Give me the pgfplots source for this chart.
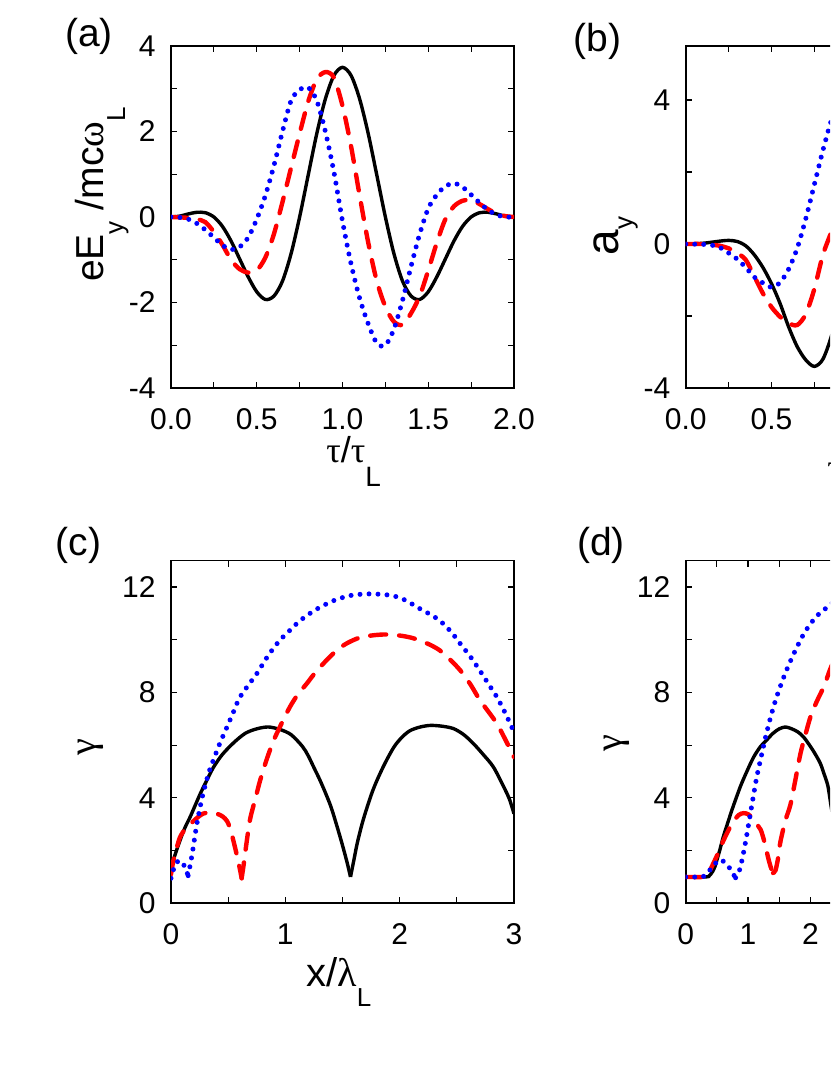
\documentclass[border=0pt]{standalone}
\usepackage{fontspec}
\setmainfont{Liberation Sans}
\newfontfamily\gr{Liberation Serif}
\usepackage{pgfplots}
\pgfplotsset{compat=1.18}
\newcommand{\fs}[1]{\fontsize{#1}{#1}\selectfont}
\pgfplotsset{
  panel/.style={scale only axis, width=171.5pt, height=171pt, anchor=south west,
    tick align=inside, major tick length=3pt, minor tick length=3pt,
    axis line style={line width=0.8pt}, tick style={black, line width=0.6pt},
    tick label style={font=\fs{15}},
    xticklabel style={inner sep=0pt, yshift=-10pt},
    yticklabel style={inner sep=0pt, xshift=-7.5pt}, clip=true},
  blk/.style={black, line width=1.7pt},
  rdd/.style={red, line width=2.2pt, dash pattern=on 8pt off 6.5pt, line cap=round},
  bld/.style={blue, line width=2.5pt, dash pattern=on 0pt off 4.5pt, line cap=round},
}
\begin{document}
\begin{tikzpicture}
\useasboundingbox (0,0) rectangle (415pt,537.5pt);
\clip (0,0) rectangle (415pt,537.5pt);
% ---------------- (a)
\begin{axis}[panel, at={(85.5pt,343.5pt)}, xmin=0, xmax=2, ymin=-4, ymax=4,
  xtick={0,0.5,1,1.5,2}, xticklabels={0.0,0.5,1.0,1.5,2.0}, minor xtick={0.25,0.75,1.25,1.75},
  ytick={-4,-2,0,2,4}, yticklabels={-4,-2,0,2,4}, minor ytick={-3,-1,1,3}]
\addplot[blk, smooth] coordinates {(0,0)(0.05,0.02)(0.1,0.07)(0.15,0.11)(0.2,0.10)(0.25,0)(0.3,-0.22)(0.35,-0.56)(0.4,-0.98)(0.45,-1.40)(0.5,-1.75)(0.55,-1.93)(0.6,-1.85)(0.65,-1.50)(0.7,-0.86)(0.75,0)(0.8,0.98)(0.85,1.95)(0.9,2.76)(0.95,3.31)(1.0,3.5)(1.05,3.31)(1.1,2.76)(1.15,1.95)(1.2,0.98)(1.25,0)(1.3,-0.86)(1.35,-1.50)(1.4,-1.85)(1.45,-1.93)(1.5,-1.75)(1.55,-1.40)(1.6,-0.98)(1.65,-0.56)(1.7,-0.22)(1.75,0)(1.8,0.10)(1.85,0.11)(1.9,0.07)(1.95,0.02)(2.0,0)};
\addplot[rdd, smooth] coordinates {(0,0)(0.1,-0.02)(0.15,-0.05)(0.2,-0.12)(0.25,-0.35)(0.3,-0.65)(0.35,-1.0)(0.4,-1.22)(0.45,-1.3)(0.5,-1.25)(0.55,-0.95)(0.6,-0.4)(0.65,0.35)(0.7,1.15)(0.75,1.95)(0.8,2.7)(0.85,3.22)(0.9,3.39)(0.95,3.26)(1.0,2.6)(1.05,1.65)(1.1,0.5)(1.15,-0.6)(1.2,-1.5)(1.25,-2.1)(1.3,-2.45)(1.35,-2.52)(1.4,-2.25)(1.45,-1.85)(1.5,-1.25)(1.55,-0.6)(1.6,-0.05)(1.65,0.25)(1.7,0.38)(1.75,0.4)(1.8,0.3)(1.85,0.18)(1.9,0.08)(1.95,0.02)(2.0,0)};
\addplot[bld, smooth] coordinates {(0,0)(0.05,-0.01)(0.1,-0.05)(0.15,-0.15)(0.2,-0.3)(0.25,-0.48)(0.3,-0.66)(0.35,-0.76)(0.4,-0.7)(0.45,-0.48)(0.5,-0.05)(0.55,0.5)(0.6,1.2)(0.65,2.0)(0.7,2.72)(0.75,2.98)(0.8,3.03)(0.85,2.72)(0.9,2.0)(0.95,1.05)(1.0,-0.1)(1.05,-1.1)(1.1,-1.9)(1.15,-2.5)(1.2,-2.95)(1.25,-3.0)(1.3,-2.62)(1.35,-1.95)(1.4,-1.15)(1.45,-0.4)(1.5,0.2)(1.55,0.52)(1.6,0.72)(1.65,0.79)(1.7,0.7)(1.75,0.52)(1.8,0.33)(1.85,0.16)(1.9,0.05)(1.95,0.0)(2.0,0)};
\end{axis}
% ---------------- (b)
\begin{axis}[panel, at={(342.85pt,343.5pt)}, xmin=0, xmax=2, ymin=-4, ymax=5.5,
  xtick={0,0.5,1,1.5,2}, xticklabels={0.0,0.5,,,}, minor xtick={0.25,0.75,1.25,1.75},
  ytick={-4,0,4}, yticklabels={-4,0,4}, minor ytick={-2,2}]
\addplot[blk, smooth] coordinates {(0,0)(0.1,0.02)(0.2,0.08)(0.25,0.1)(0.3,0.07)(0.35,-0.05)(0.4,-0.3)(0.45,-0.65)(0.5,-1.1)(0.55,-1.65)(0.6,-2.3)(0.65,-2.85)(0.7,-3.22)(0.75,-3.4)(0.8,-3.2)(0.85,-2.55)(0.9,-1.6)(0.95,-0.4)(1.0,0.9)(1.1,3.0)(1.2,4.5)};
\addplot[rdd, smooth] coordinates {(0,0)(0.1,0)(0.15,-0.02)(0.2,-0.05)(0.25,-0.12)(0.3,-0.25)(0.35,-0.44)(0.4,-0.9)(0.45,-1.37)(0.5,-1.75)(0.55,-2.02)(0.6,-2.2)(0.65,-2.25)(0.7,-1.95)(0.75,-1.25)(0.8,-0.3)(0.85,0.35)(0.9,1.1)(1.0,2.5)};
\addplot[bld, smooth] coordinates {(0,0)(0.1,-0.01)(0.15,-0.03)(0.2,-0.1)(0.25,-0.25)(0.3,-0.42)(0.35,-0.65)(0.4,-0.92)(0.45,-1.08)(0.5,-1.2)(0.55,-1.07)(0.6,-0.7)(0.65,-0.12)(0.7,0.7)(0.75,1.65)(0.8,2.6)(0.85,3.45)(0.9,4.1)(0.95,4.5)(1.0,4.6)};
\end{axis}
% ---------------- (c)
\begin{axis}[panel, at={(85.5pt,85.85pt)}, height=171.3pt, xmin=0, xmax=3, ymin=0, ymax=13,
  xtick={0,1,2,3}, xticklabels={0,1,2,3}, minor xtick={0.5,1.5,2.5},
  ytick={0,4,8,12}, yticklabels={0,4,8,12}, minor ytick={2,6,10}]
\addplot[blk, smooth] coordinates {(0,1.35)(0.04,1.9)(0.08,2.4)(0.12,2.85)(0.17,3.3)(0.25,4.1)(0.3,4.55)(0.37,5.15)(0.45,5.65)(0.55,6.1)(0.65,6.45)(0.75,6.62)(0.85,6.69)(0.95,6.6)(1.05,6.4)(1.15,5.95)(1.2,5.6)(1.25,5.15)(1.3,4.7)(1.35,4.2)(1.4,3.65)(1.45,2.95)(1.5,2.2)(1.54,1.55)(1.57,1.0)};
\addplot[blk, smooth] coordinates {(1.57,1.0)(1.6,1.65)(1.63,2.3)(1.68,3.15)(1.75,4.1)(1.8,4.65)(1.87,5.3)(1.95,5.93)(2.02,6.3)(2.09,6.55)(2.18,6.69)(2.27,6.75)(2.37,6.72)(2.47,6.63)(2.56,6.4)(2.645,6.06)(2.73,5.65)(2.82,5.17)(2.91,4.42)(2.96,3.95)(3.0,3.4)};
\addplot[rdd, smooth] coordinates {(0,1.1)(0.02,1.6)(0.05,2.1)(0.08,2.52)(0.13,2.85)(0.18,3.05)(0.23,3.25)(0.28,3.4)(0.34,3.45)(0.4,3.4)(0.45,3.3)(0.49,3.12)(0.52,2.8)(0.55,2.3)(0.58,1.75)(0.6,1.35)(0.618,0.95)};
\addplot[rdd, smooth] coordinates {(0.618,0.95)(0.635,1.45)(0.65,1.95)(0.69,3.15)(0.74,4.0)(0.78,4.67)(0.84,5.5)(0.9,6.2)(0.97,6.85)(1.04,7.45)(1.11,7.93)(1.19,8.35)(1.27,8.8)(1.36,9.22)(1.45,9.6)(1.54,9.87)(1.65,10.08)(1.77,10.17)(1.88,10.2)(2.0,10.16)(2.1,10.08)(2.18,9.97)(2.27,9.8)(2.35,9.6)(2.44,9.25)(2.53,8.84)(2.62,8.3)(2.70,7.72)(2.78,7.25)(2.85,6.82)(2.92,6.25)(3.0,5.55)};
\addplot[bld] coordinates {(0,0.95)(0.03,1.4)(0.06,1.6)(0.09,1.6)(0.12,1.4)(0.15,1.05)};
\addplot[bld, smooth] coordinates {(0.15,1.05)(0.17,1.5)(0.19,2.0)(0.22,2.85)(0.25,3.55)(0.28,4.15)(0.33,4.95)(0.37,5.43)(0.43,6.1)(0.49,6.69)(0.55,7.3)(0.6,7.8)(0.68,8.3)(0.75,8.71)(0.85,9.4)(0.95,9.97)(1.05,10.4)(1.13,10.73)(1.25,11.1)(1.36,11.36)(1.45,11.53)(1.57,11.68)(1.71,11.74)(1.85,11.72)(1.95,11.66)(2.05,11.5)(2.18,11.17)(2.26,10.98)(2.35,10.73)(2.45,10.3)(2.53,9.85)(2.62,9.35)(2.70,8.84)(2.78,8.3)(2.85,7.83)(2.92,7.25)(2.98,6.69)(3.0,6.5)};
\end{axis}
% ---------------- (d)
\begin{axis}[panel, at={(342.85pt,85.85pt)}, height=171.3pt, xmin=0, xmax=5.5, ymin=0, ymax=13,
  xtick={0,1,2,3,4,5}, xticklabels={0,1,2,,,}, minor xtick={0.5,1.5,2.5,3.5,4.5},
  ytick={0,4,8,12}, yticklabels={0,4,8,12}, minor ytick={2,6,10}]
\addplot[blk, smooth] coordinates {(0,1)(0.33,1)(0.38,1.05)(0.43,1.2)(0.47,1.4)(0.5,1.64)(0.55,2.05)(0.6,2.5)(0.66,2.95)(0.75,3.6)(0.875,4.42)(0.98,5.0)(1.09,5.55)(1.2,5.95)(1.3,6.2)(1.4,6.45)(1.5,6.62)(1.6,6.69)(1.7,6.62)(1.8,6.5)(1.89,6.31)(2.0,5.95)(2.08,5.65)(2.16,5.3)(2.22,4.9)(2.28,4.45)(2.33,3.7)(2.37,3.1)(2.42,2.3)(2.46,1.6)(2.5,1.0)};
\addplot[rdd, smooth] coordinates {(0,1)(0.3,1)(0.35,1.08)(0.4,1.3)(0.45,1.55)(0.5,1.8)(0.58,2.25)(0.66,2.65)(0.75,3.05)(0.85,3.35)(0.93,3.42)(1.0,3.38)(1.06,3.25)(1.12,3.05)(1.2,2.8)(1.26,2.35)(1.32,1.75)(1.36,1.4)(1.4,1.15)};
\addplot[rdd, smooth] coordinates {(1.4,1.15)(1.44,1.25)(1.48,1.7)(1.52,2.35)(1.6,3.15)(1.68,3.75)(1.76,4.7)(1.84,5.68)(1.92,6.4)(2.0,7.07)(2.1,7.65)(2.22,8.25)(2.33,8.96)(2.45,9.5)(2.6,10.0)};
\addplot[bld, smooth] coordinates {(0,1)(0.25,1.0)(0.3,1.05)(0.35,1.15)(0.4,1.3)(0.45,1.45)(0.5,1.57)(0.55,1.65)(0.6,1.6)(0.65,1.48)(0.7,1.35)(0.75,1.15)(0.8,0.97)};
\addplot[bld, smooth] coordinates {(0.8,0.97)(0.84,1.1)(0.88,1.4)(0.93,1.95)(0.98,2.6)(1.03,3.3)(1.08,4.0)(1.14,4.8)(1.2,5.45)(1.28,6.3)(1.36,7.05)(1.44,7.7)(1.52,8.25)(1.6,8.75)(1.7,9.3)(1.8,9.8)(1.9,10.25)(2.0,10.6)(2.1,10.9)(2.2,11.1)(2.33,11.36)(2.45,11.6)(2.6,11.75)};
\end{axis}
% ---------------- labels
\node[font=\fs{19.5}] at (44.5pt,519.25pt) {(a)};
\node[font=\fs{19.5}] at (298.75pt,517pt) {(b)};
\node[font=\fs{19.5}] at (39.25pt,265pt) {(c)};
\node[font=\fs{19.5}] at (300.5pt,265pt) {(d)};
\node[rotate=90, anchor=base, font=\fs{19.5}, inner sep=0pt] at (51.5pt,440.25pt)
  {eE\raisebox{-10pt}{\fs{13}y} /mc{\gr ω}\raisebox{-11pt}{\fs{13}L}};
\node[anchor=base west, font=\fs{18}, inner sep=0pt] at (163pt,306pt)
  {{\gr τ}/{\gr τ}\raisebox{-12pt}{\fs{14}L}};
\node[rotate=90, anchor=base, font=\fs{23}, inner sep=0pt] at (309.2pt,419.5pt)
  {a\raisebox{-7pt}{\fs{13}y}};
\node[anchor=base west, font=\fs{18}, inner sep=0pt] at (413.5pt,297.5pt)
  {{\gr τ}/{\gr τ}\raisebox{-12pt}{\fs{14}L}};
\node[rotate=90, font=\fs{19}, inner sep=0pt] at (45.25pt,164pt) {\gr γ};
\node[rotate=90, font=\fs{19}, inner sep=0pt] at (308.25pt,166pt) {\gr γ};
\node[anchor=base west, font=\fs{20}, inner sep=0pt] at (153pt,44pt)
  {x/{\gr λ}\raisebox{-10pt}{\fs{13}L}};
\end{tikzpicture}
\end{document}
